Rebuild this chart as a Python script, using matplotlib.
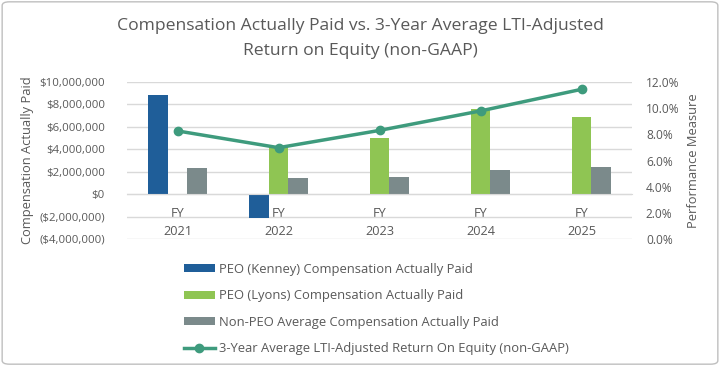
import matplotlib
matplotlib.use("Agg")
import matplotlib.pyplot as plt
from matplotlib.patches import FancyBboxPatch
from matplotlib.ticker import FuncFormatter, MultipleLocator
import numpy as np

years = ["FY\n2021", "FY\n2022", "FY\n2023", "FY\n2024", "FY\n2025"]
kenney = [8.8e6, -2.1e6, np.nan, np.nan, np.nan]
lyons = [np.nan, 4.2e6, 5.0e6, 7.55e6, 6.9e6]
non_peo = [2.35e6, 1.4e6, 1.5e6, 2.15e6, 2.45e6]
roe = [0.0826, 0.0698, 0.0830, 0.0979, 0.1144]

labels = ["PEO (Kenney) Compensation Actually Paid",
          "PEO (Lyons) Compensation Actually Paid",
          "Non-PEO Average Compensation Actually Paid",
          "3-Year Average LTI-Adjusted Return On Equity (non-GAAP)"]

c_blue = "#1F5E99"
c_green = "#8FC553"
c_gray = "#7B8A8B"
c_line = "#3E9B7D"
c_text = "#595959"
c_grid = "#D9D9D9"

plt.rcParams['font.family'] = ['Open Sans', 'DejaVu Sans']

fig = plt.figure(figsize=(7.2, 3.66), dpi=100)
fig.patches.append(FancyBboxPatch((0.003, 0.005), 0.994, 0.99, boxstyle="round,pad=0,rounding_size=0.01",
                                  transform=fig.transFigure, fill=False, edgecolor="#BFBFBF", lw=1))
ax = fig.add_axes([127/720, 1-239/366, 505/720, 157/366])
x = np.arange(len(years))
w = 0.193
b1 = ax.bar(x - w, kenney, w, color=c_blue, label=labels[0], zorder=2)
b2 = ax.bar(x, lyons, w, color=c_green, label=labels[1], zorder=2)
b3 = ax.bar(x + w, non_peo, w, color=c_gray, label=labels[2], zorder=2)
ax.set_ylim(-4e6, 10e6)
ax.set_xlim(-0.5, len(years) - 0.5)
ax.yaxis.set_major_locator(MultipleLocator(2e6))
ax.yaxis.set_major_formatter(FuncFormatter(lambda v, p: f"${v:,.0f}" if v >= 0 else f"(${-v:,.0f})"))
ax.grid(axis='y', color=c_grid, lw=1, zorder=0)
for s in ['top', 'right', 'left']:
    ax.spines[s].set_visible(False)
ax.spines['bottom'].set_position(('data', 0))
ax.spines['bottom'].set_color(c_grid)
ax.set_xticks(x)
ax.set_xticklabels(years, linespacing=1.5)
ax.tick_params(axis='x', length=0, pad=9, labelsize=9.2, colors=c_text)
ax.tick_params(axis='y', length=0, pad=16, labelsize=8.2, colors=c_text)
ax.set_ylabel("Compensation Actually Paid", fontsize=9.3, color=c_text)
ax.yaxis.set_label_coords(-0.184, 0.5)

ax2 = ax.twinx()
l1, = ax2.plot(x, roe, color=c_line, lw=2.5, marker='o', markersize=6, label=labels[3], zorder=3)
ax2.set_ylim(0, 0.12)
ax2.yaxis.set_major_locator(MultipleLocator(0.02))
ax2.yaxis.set_major_formatter(FuncFormatter(lambda v, p: f"{v*100:.1f}%"))
for s in ['top', 'right', 'left', 'bottom']:
    ax2.spines[s].set_visible(False)
ax2.tick_params(axis='y', length=0, pad=10, labelsize=8.6, colors=c_text)
ax2.set_ylabel("Performance Measure", fontsize=9.3, color=c_text)
ax2.yaxis.set_label_coords(1.109, 0.5)

fig.text(0.5, 1-38.5/366, "Compensation Actually Paid vs. 3-Year Average LTI-Adjusted\nReturn on Equity (non-GAAP)",
         ha='center', va='center', fontsize=12.6, color=c_text, linespacing=1.75)

leg = fig.legend([b1, b2, b3, l1], labels, loc='upper left', bbox_to_anchor=(172/720, 1-251/366),
                 frameon=False, fontsize=9.4, labelcolor=c_text, handlelength=2.4, handleheight=0.55,
                 labelspacing=1.03, handletextpad=0.3)
fig.savefig("out.png", dpi=100)
